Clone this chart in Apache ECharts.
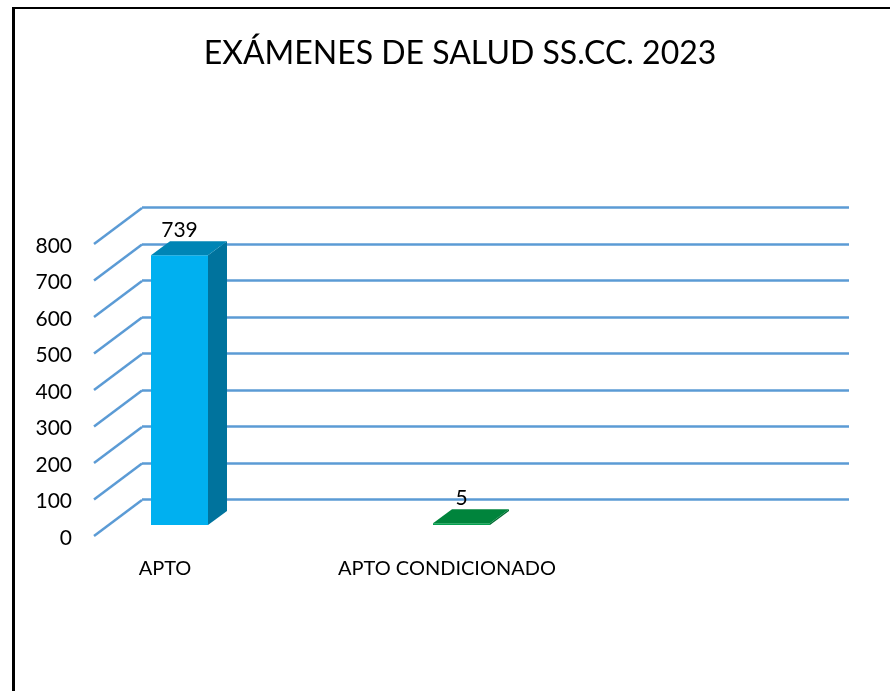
<!DOCTYPE html>
<html><head><meta charset="utf-8">
<style>html,body{margin:0;padding:0;background:#fff}#c{width:890px;height:691px}</style>
<script src="https://cdn.jsdelivr.net/npm/echarts@6/dist/echarts.min.js"></script>
</head><body><div id="c"></div>
<script>
const titleText = 'EXÁMENES DE SALUD SS.CC. 2023';
const categories = ['APTO', 'APTO CONDICIONADO', ''];
const values = [739, 5, null];
const yTicks = [0, 100, 200, 300, 400, 500, 600, 700, 800];
const faceColors = [
  {front: '#00B0F0', top: '#0085B5', side: '#00739D'},
  {front: '#05A04F', top: '#00843C', side: '#006E32'},
  {front: '#000', top: '#000', side: '#000'}
];
const font = 'Lato';
const chart = echarts.init(document.getElementById('c'), null, {renderer: 'canvas'});
const floorLeft = 94, wallDx = 48, wallDy = 36;
const barL = -14, barW = 57, barLift = 11, barDx = 19, barDy = 14;
const gridColor = '#5B9BD5';

function wallLines(params, api) {
  const y = api.coord([0, api.value(0)])[1];
  return {type: 'line', silent: true,
    shape: {x1: floorLeft, y1: y, x2: floorLeft + wallDx, y2: y - wallDy},
    style: {stroke: gridColor, lineWidth: 2.5}};
}
function bar3d(params, api) {
  const v = api.value(1);
  if (v == null || isNaN(v)) return null;
  const c = faceColors[params.dataIndex];
  const base = api.coord([api.value(0), 0]);
  const topP = api.coord([api.value(0), v]);
  const x0 = base[0] + barL, x1 = x0 + barW;
  const y0 = base[1] - barLift, y1 = topP[1] - barLift;
  const poly = (pts, fill) => ({type: 'polygon', shape: {points: pts}, style: {fill: fill}});
  return {type: 'group', children: [
    poly([[x0,y0],[x1,y0],[x1,y1],[x0,y1]], c.front),
    poly([[x1,y0],[x1+barDx,y0-barDy],[x1+barDx,y1-barDy],[x1,y1]], c.side),
    poly([[x0,y1],[x1,y1],[x1+barDx,y1-barDy],[x0+barDx,y1-barDy]], c.top),
    {type: 'text', style: {text: String(v), x: x0 + barW/2 + 0, y: y1 - barDy - 11,
      align: 'center', verticalAlign: 'middle', fontFamily: font, fontSize: 21, fill: '#000'}}
  ]};
}
chart.setOption({
  animation: false,
  backgroundColor: '#fff',
  title: {text: titleText, left: 455, top: 49, textAlign: 'center', textVerticalAlign: 'middle',
    textStyle: {fontFamily: font, fontWeight: 'normal', fontSize: 32, color: '#000'}},
  grid: [
    {left: 24, top: 244, width: 846, height: 292},
    {left: 142, top: 207.5, width: 707, height: 292},
    {left: 94, top: 246, width: 707, height: 292}
  ],
  xAxis: [
    {type: 'category', gridIndex: 0, data: categories,
     axisLine: {show: false}, axisTick: {show: false}, splitLine: {show: false},
     axisLabel: {interval: 0, margin: 23, color: '#000', fontFamily: font, fontSize: 20}},
    {type: 'category', gridIndex: 1, data: categories, show: false},
    {type: 'category', gridIndex: 2, data: categories, show: false}
  ],
  yAxis: [
    {type: 'value', gridIndex: 0, min: 0, max: 800, interval: 100, show: false},
    {type: 'value', gridIndex: 1, min: 0, max: 800, interval: 100,
     axisLine: {show: false}, axisTick: {show: false}, axisLabel: {show: false},
     splitLine: {show: true, lineStyle: {color: gridColor, width: 2.5}}},
    {type: 'value', gridIndex: 2, min: 0, max: 800, interval: 100,
     axisLine: {show: false}, axisTick: {show: false}, splitLine: {show: false},
     axisLabel: {margin: 22, color: '#000', fontFamily: font, fontSize: 21}}
  ],
  series: [
    {type: 'custom', xAxisIndex: 0, yAxisIndex: 0, silent: true, z: 1,
     encode: {y: 0}, data: yTicks.map(v => [v]), renderItem: wallLines, clip: false},
    {type: 'custom', xAxisIndex: 0, yAxisIndex: 0, silent: true, z: 3,
     encode: {x: 0, y: 1}, data: categories.map((c, i) => [i, values[i]]), renderItem: bar3d, clip: false}
  ],
  graphic: [
    {type: 'line', z: 10, shape: {x1: 13.5, y1: 7, x2: 13.5, y2: 691}, style: {stroke: '#000', lineWidth: 3}},
    {type: 'line', z: 10, shape: {x1: 12, y1: 8, x2: 890, y2: 8}, style: {stroke: '#000', lineWidth: 2}}
  ]
});
</script></body></html>
